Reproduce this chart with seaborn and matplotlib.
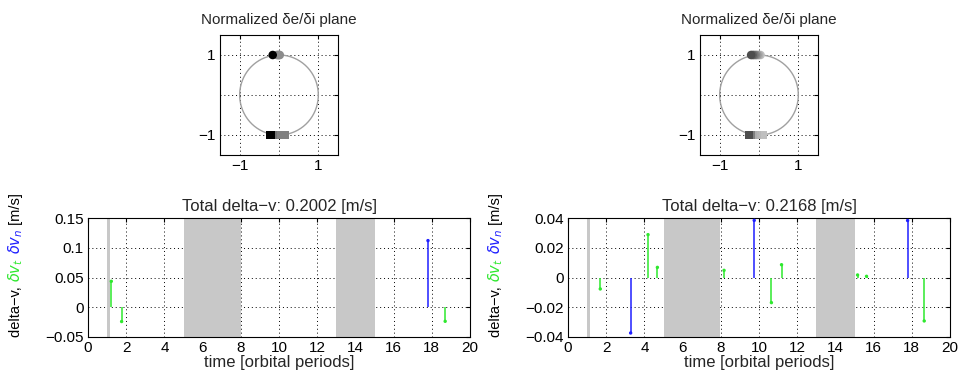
import numpy as np
import pandas as pd
import matplotlib
matplotlib.use("Agg")
import matplotlib.pyplot as plt
import seaborn as sns

# ---- data ----
titles_top = ["Normalized δe/δi plane", "Normalized δe/δi plane"]
titles_bot = ["Total delta−v: 0.2002 [m/s]", "Total delta−v: 0.2168 [m/s]"]

# markers in the normalized plane (x position, y position, grey level)
left_circ_x = [-0.05, -0.02, 0.0, 0.02, -0.16]
left_circ_g = [0.55, 0.55, 0.55, 0.55, 0.0]
left_sq_x = [0.15, 0.1, 0.05, 0.0, -0.05, -0.1, -0.15, -0.22]
left_sq_g = [0.5, 0.5, 0.5, 0.5, 0.5, 0.5, 0.45, 0.0]
right_circ_x = [0.04, 0.0, -0.04, -0.08, -0.12, -0.16, -0.2]
right_circ_g = [0.75, 0.68, 0.6, 0.52, 0.45, 0.38, 0.3]
right_sq_x = [0.1, 0.05, 0.0, -0.05, -0.1, -0.15, -0.2, -0.25]
right_sq_g = [0.75, 0.75, 0.75, 0.72, 0.7, 0.68, 0.5, 0.3]

# shaded intervals (orbital periods)
spans_left = [(1.0, 1.15), (5.0, 8.0), (13.0, 15.0)]
spans_right = [(1.0, 1.15), (5.0, 7.95), (13.0, 15.0)]

# delta-v impulses
left_t_t = [1.22, 1.76, 18.7]
left_v_t = [0.0436, -0.024, -0.0236]
left_t_n = [17.8]
left_v_n = [0.112]
right_t_t = [1.69, 4.19, 4.68, 8.17, 10.65, 11.18, 15.16, 15.63, 18.65]
right_v_t = [-0.0077, 0.0288, 0.0068, 0.0048, -0.0169, 0.0086, 0.0017, 0.0008, -0.0292]
right_t_n = [3.28, 9.75, 17.78]
right_v_n = [-0.0373, 0.0384, 0.0383]

W, H = 959, 380
sns.set_style("white")
plt.rcParams['font.family'] = ['Liberation Sans', 'DejaVu Sans']
plt.rcParams['mathtext.fontset'] = 'dejavusans'
plt.rcParams['font.size'] = 11

GREEN = "#2ee82e"
BLUE = "#1f1fff"
SPAN = "#c8c8c8"

fig = plt.figure(figsize=(W / 100, H / 100), dpi=100)


def px_axes(x0, y0, w, h):
    return fig.add_axes([x0 / W, 1 - (y0 + h) / H, w / W, h / H])


def style_ax(ax):
    ax.tick_params(direction="in", length=3, top=True, right=True,
                   labelsize=11, colors="black", pad=3)
    for s in ax.spines.values():
        s.set_color("black")
        s.set_linewidth(0.8)
    ax.grid(True, color="black", linestyle=(0, (1, 3)), linewidth=0.7)
    ax.set_axisbelow(True)


def plane(ax, title, cx, cg, sx, sg):
    th = np.linspace(0, 2 * np.pi, 300)
    ax.plot(np.cos(th), np.sin(th), color="#a0a0a0", lw=1, zorder=2)
    dfc = pd.DataFrame({"x": cx, "y": [1.0] * len(cx), "g": cg})
    dfs = pd.DataFrame({"x": sx, "y": [-1.0] * len(sx), "g": sg})
    for df, m in ((dfc, "o"), (dfs, "s")):
        cols = [(g, g, g) for g in df["g"]]
        sns.scatterplot(data=df, x="x", y="y", ax=ax, marker=m, s=38,
                        color=cols, edgecolor="none", zorder=3, legend=False)
    ax.set_xlim(-1.5, 1.5)
    ax.set_ylim(-1.5, 1.5)
    ax.set_xticks([-1, 0, 1])
    ax.set_yticks([-1, 0, 1])
    ax.set_xticklabels(["−1", "", "1"])
    ax.set_yticklabels(["−1", "", "1"])
    ax.set_xlabel("")
    ax.set_ylabel("")
    style_ax(ax)
    ax.set_title(title, fontsize=11, pad=8)


def impulses(ax, title, spans, tt, vt, tn, vn, ylim, yticks, ylabels):
    for a, b in spans:
        ax.axvspan(a, b, color=SPAN, lw=0, zorder=1)
    ax.vlines(tt, 0, vt, color=GREEN, lw=1.1, zorder=3)
    ax.vlines(tn, 0, vn, color=BLUE, lw=1.1, zorder=3)
    sns.scatterplot(x=tt, y=vt, ax=ax, color=GREEN, s=6, edgecolor="none", zorder=4)
    sns.scatterplot(x=tn, y=vn, ax=ax, color=BLUE, s=6, edgecolor="none", zorder=4)
    ax.set_xlim(0, 20)
    ax.set_ylim(*ylim)
    ax.set_xticks(range(0, 21, 2))
    ax.set_yticks(yticks)
    ax.set_yticklabels(ylabels)
    style_ax(ax)
    ax.set_title(title, fontsize=12, pad=5)
    ax.set_xlabel("time [orbital periods]", fontsize=12, labelpad=0)


ax1 = px_axes(220, 35, 118, 120)
plane(ax1, titles_top[0], left_circ_x, left_circ_g, left_sq_x, left_sq_g)
ax2 = px_axes(700, 35, 118, 120)
plane(ax2, titles_top[1], right_circ_x, right_circ_g, right_sq_x, right_sq_g)

ax3 = px_axes(88, 218, 382, 119)
impulses(ax3, titles_bot[0], spans_left, left_t_t, left_v_t, left_t_n, left_v_n,
         (-0.05, 0.15), [-0.05, 0, 0.05, 0.1, 0.15],
         ["−0.05", "0", "0.05", "0.1", "0.15"])
ax4 = px_axes(568, 218, 382, 119)
impulses(ax4, titles_bot[1], spans_right, right_t_t, right_v_t, right_t_n, right_v_n,
         (-0.04, 0.04), [-0.04, -0.02, 0, 0.02, 0.04],
         ["−0.04", "−0.02", "0", "0.02", "0.04"])

# multi-coloured rotated y labels
fig.canvas.draw()
renderer = fig.canvas.get_renderer()
parts = [("delta−v, ", "black"), (r"$\delta v_t$", GREEN), (" ", "black"),
         (r"$\delta v_n$", BLUE), (" [m/s]", "black")]
for xpx in (16, 496):
    ypx = 337
    for txt, col in parts:
        t = fig.text(xpx / W, 1 - ypx / H, txt, rotation=90, color=col,
                     ha="center", va="bottom", fontsize=10.5)
        bb = t.get_window_extent(renderer)
        ypx -= bb.height

fig.savefig("out.png", dpi=100)
